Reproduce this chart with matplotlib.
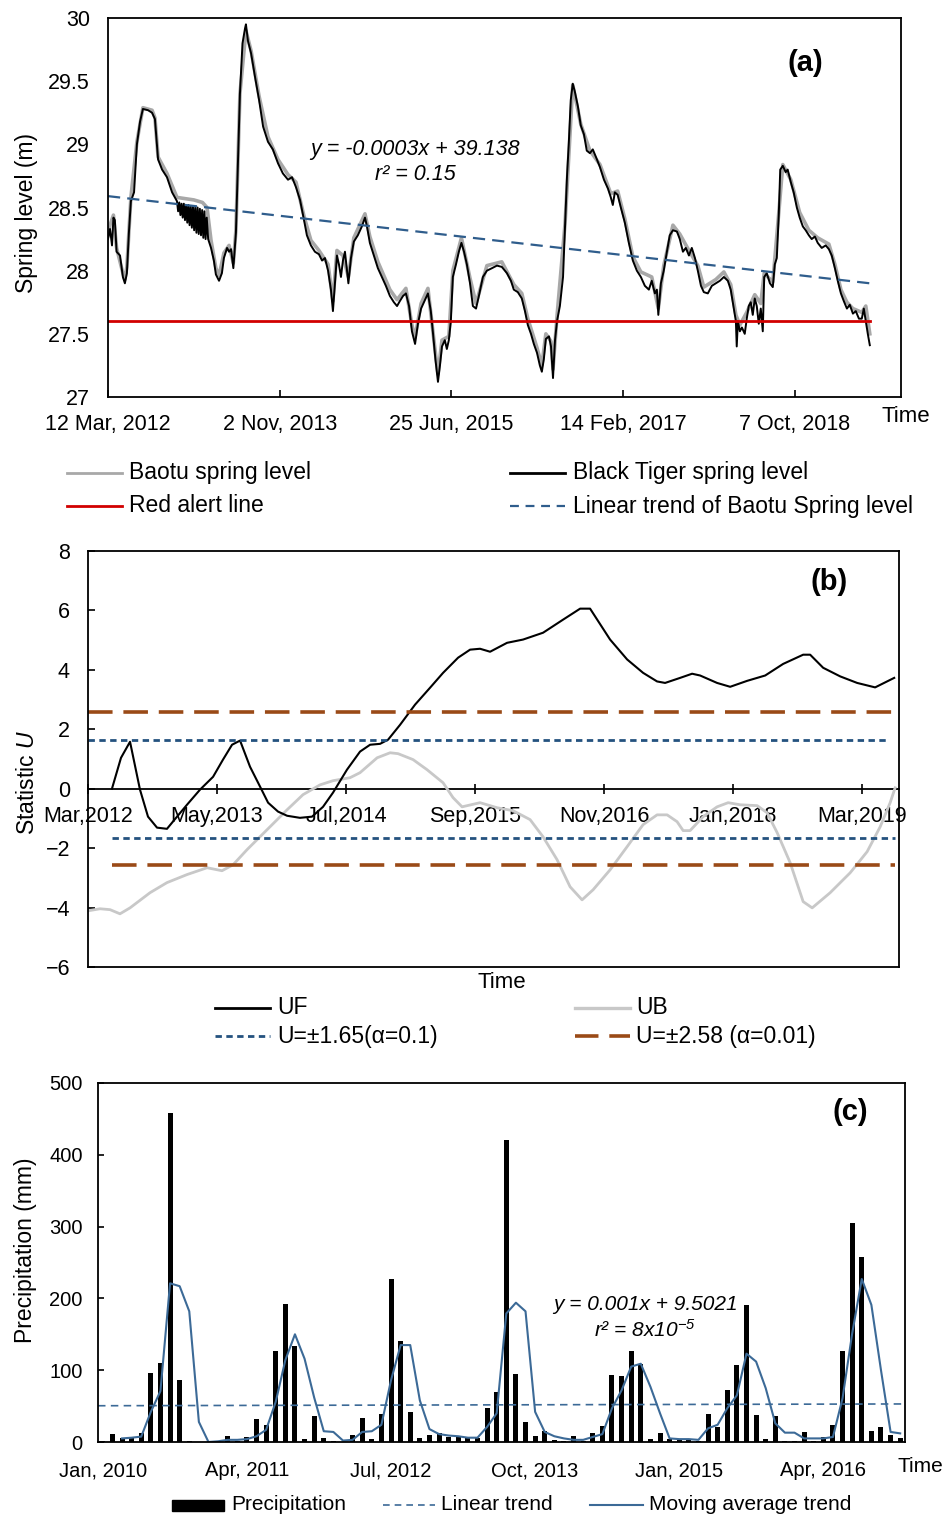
import matplotlib
matplotlib.use("Agg")
import matplotlib.pyplot as plt
import numpy as np
from matplotlib.lines import Line2D
from matplotlib.patches import Rectangle

plt.rcParams["font.family"] = ["Liberation Sans", "DejaVu Sans"]
plt.rcParams["mathtext.fontset"] = "custom"
plt.rcParams["mathtext.rm"] = "Liberation Sans:italic"
plt.rcParams["mathtext.it"] = "Liberation Sans:italic"

# ---------------- (a) spring levels, x = days since 12 Mar 2012 ----------------
BT_DAY = [0, 7, 14, 19, 24, 30, 42, 52, 59, 66, 73, 80, 91, 101, 112, 122, 140, 154, 164, 175,
          189, 206, 224, 241, 245, 249, 253, 257, 261, 265, 269, 273, 277, 281, 285, 289, 293, 297,
          301, 305, 309, 313, 317, 321, 325, 329, 333, 337, 341, 345, 350, 360, 370, 377,
          388, 398, 405, 416, 423, 430, 438, 447, 454, 461, 470, 479, 482, 489, 500, 514, 528, 542,
          559, 576, 594, 611, 629, 643, 657, 671, 685, 695, 709, 723, 737, 748, 758, 769, 779, 786,
          793, 800, 807, 814, 821, 828, 835, 840, 849, 859, 873, 887, 898, 905, 915, 929, 943, 957,
          971, 985, 999, 1010, 1020, 1031, 1041, 1052, 1062, 1073, 1083, 1094, 1104, 1118, 1128,
          1135, 1144, 1153, 1160, 1167, 1177, 1184, 1191, 1198, 1205, 1216, 1226, 1235, 1244, 1254,
          1265, 1275, 1286, 1296, 1310, 1324, 1342, 1359, 1376, 1394, 1408, 1418, 1432, 1446, 1457,
          1467, 1478, 1488, 1499, 1509, 1516, 1523, 1530, 1541, 1548, 1555, 1562, 1569, 1579, 1590,
          1597, 1604, 1610, 1617, 1624, 1631, 1642, 1652, 1663, 1673, 1684, 1694, 1705, 1719, 1733,
          1747, 1757, 1764, 1771, 1781, 1792, 1806, 1820, 1834, 1848, 1862, 1876, 1890, 1900, 1911,
          1918, 1923, 1932, 1942, 1953, 1963, 1974, 1988, 1998, 2009, 2019, 2030, 2040, 2051, 2061,
          2072, 2082, 2096, 2110, 2124, 2138, 2152, 2166, 2176, 2187, 2194, 2197, 2201, 2208, 2215,
          2225, 2232, 2239, 2246, 2253, 2260, 2267, 2274, 2281, 2288, 2293, 2302, 2313, 2323, 2330,
          2337, 2344, 2349, 2358, 2368, 2375, 2386, 2396, 2407, 2417, 2428, 2438, 2449, 2459, 2470,
          2480, 2494, 2508, 2519, 2529, 2540, 2550, 2561, 2571, 2582, 2592, 2603, 2613, 2624, 2634,
          2641, 2648, 2655, 2662]
BT_LEVEL = [28.25, 28.33, 28.20, 28.42, 28.40, 28.15, 28.12, 27.95, 27.90, 27.98, 28.30, 28.55,
            28.62, 29.00, 29.18, 29.28, 29.27, 29.25, 29.20, 28.88, 28.80, 28.74, 28.62, 28.55,
            28.47, 28.54, 28.44, 28.53, 28.42, 28.53, 28.40, 28.52, 28.38, 28.52, 28.36, 28.51,
            28.34, 28.51, 28.32, 28.50, 28.30, 28.50, 28.29, 28.49, 28.28, 28.48, 28.26, 28.47,
            28.25, 28.42, 28.25, 28.18,
            28.08, 27.97, 27.92, 27.98, 28.10, 28.18, 28.15, 28.17, 28.02, 28.30, 28.85, 29.40,
            29.80, 29.92, 29.95, 29.82, 29.72, 29.53, 29.35, 29.14, 29.02, 28.96, 28.85, 28.77,
            28.72, 28.74, 28.66, 28.56, 28.40, 28.28, 28.20, 28.15, 28.13, 28.08, 28.10, 28.00,
            27.85, 27.68, 27.90, 28.12, 28.05, 27.95, 28.08, 28.15, 28.00, 27.90, 28.10, 28.23,
            28.28, 28.35, 28.42, 28.35, 28.22, 28.12, 28.02, 27.95, 27.88, 27.80, 27.75, 27.72,
            27.76, 27.80, 27.82, 27.72, 27.52, 27.42, 27.58, 27.70, 27.75, 27.82, 27.68, 27.52,
            27.30, 27.12, 27.25, 27.40, 27.45, 27.38, 27.45, 27.60, 27.95, 28.05, 28.15, 28.22,
            28.15, 28.05, 27.90, 27.72, 27.70, 27.80, 27.95, 28.00, 28.02, 28.04, 28.03, 27.98,
            27.92, 27.85, 27.83, 27.78, 27.68, 27.57, 27.50, 27.42, 27.35, 27.25, 27.20, 27.30,
            27.46, 27.48, 27.40, 27.15, 27.45, 27.60, 27.72, 27.95, 28.35, 28.75, 29.00, 29.35,
            29.48, 29.42, 29.30, 29.15, 29.08, 28.95, 28.93, 28.96, 28.90, 28.82, 28.72, 28.65,
            28.58, 28.52, 28.62, 28.60, 28.50, 28.38, 28.22, 28.08, 28.00, 27.95, 27.88, 27.85,
            27.92, 27.82, 27.85, 27.65, 27.90, 28.00, 28.15, 28.28, 28.32, 28.31, 28.25, 28.15,
            28.18, 28.12, 28.18, 28.10, 28.00, 27.88, 27.83, 27.82, 27.88, 27.90, 27.92, 27.95,
            27.92, 27.85, 27.70, 27.60, 27.40, 27.60, 27.52, 27.55, 27.50, 27.62, 27.72, 27.75,
            27.65, 27.78, 27.72, 27.58, 27.70, 27.52, 27.95, 27.98, 27.90, 27.87, 28.05, 28.10,
            28.45, 28.80, 28.83, 28.78, 28.80, 28.70, 28.62, 28.50, 28.42, 28.35, 28.32, 28.28,
            28.25, 28.27, 28.22, 28.18, 28.20, 28.17, 28.12, 28.02, 27.92, 27.82, 27.76, 27.70,
            27.73, 27.66, 27.68, 27.62, 27.62, 27.70, 27.60, 27.50, 27.41]

BAOTU_DAY = [0, 7, 19, 30, 52, 59, 66, 80, 101, 122, 154, 164, 175, 206, 241, 270, 300, 330, 346,
             360, 377, 388, 405, 423, 438, 447, 461, 482, 500, 528, 559, 594, 629, 657, 685, 709,
             737, 769, 786, 800, 821, 840, 859, 898, 915, 943, 985, 1010, 1041, 1062, 1073, 1094,
             1118, 1144, 1153, 1167, 1191, 1205, 1235, 1265, 1286, 1324, 1376, 1418, 1446, 1467,
             1499, 1516, 1530, 1548, 1555, 1569, 1597, 1624, 1652, 1684, 1719, 1757, 1781, 1806,
             1834, 1862, 1900, 1923, 1942, 1974, 1998, 2030, 2061, 2082, 2124, 2152, 2176, 2194,
             2208, 2232, 2260, 2281, 2293, 2323, 2344, 2358, 2386, 2417, 2449, 2480, 2519, 2540,
             2561, 2582, 2603, 2634, 2648, 2662]
BAOTU_LEVEL = [28.28, 28.36, 28.44, 28.18, 27.98, 27.93, 28.03, 28.58, 29.02, 29.29, 29.27, 29.21,
               28.90, 28.77, 28.58, 28.57, 28.56, 28.54, 28.50, 28.24, 28.02, 27.96, 28.14, 28.20,
               28.06, 28.32, 29.40, 29.90, 29.74, 29.38, 29.06, 28.88, 28.76, 28.70, 28.43, 28.24,
               28.16, 28.05, 27.76, 28.16, 28.12, 27.95, 28.26, 28.45, 28.27, 28.07, 27.85, 27.77,
               27.86, 27.57, 27.47, 27.74, 27.86, 27.35, 27.18, 27.45, 27.48, 28.00, 28.26, 27.94,
               27.74, 28.04, 28.07, 27.89, 27.82, 27.62, 27.39, 27.25, 27.50, 27.44, 27.22, 27.64,
               28.37, 29.47, 29.16, 28.95, 28.84, 28.61, 28.63, 28.41, 28.11, 27.99, 27.95, 27.70,
               28.04, 28.36, 28.29, 28.16, 28.04, 27.87, 27.93, 27.99, 27.89, 27.65, 27.57, 27.67,
               27.81, 27.74, 27.98, 27.91, 28.46, 28.84, 28.72, 28.46, 28.32, 28.26, 28.21, 28.05,
               27.85, 27.75, 27.70, 27.67, 27.72, 27.50]

TREND_DAY = [0, 2662]
TREND_LEVEL = [28.59, 27.90]
RED_ALERT = 27.6
A_TICK_DAYS = [0, 600, 1200, 1800, 2400]
A_TICK_LABELS = ["12 Mar, 2012", "2 Nov, 2013", "25 Jun, 2015", "14 Feb, 2017", "7 Oct, 2018"]

# ---------------- (b) Mann-Kendall, x = months since Mar 2012 ----------------
UF_MONTH = [2.6, 3.58, 4.56, 5.64, 6.51, 7.49, 8.57, 9.66, 10.74, 12.16, 13.57, 14.65, 15.63, 16.5,
            17.58, 18.67, 19.54, 20.62, 21.6, 23.0, 24.31, 25.5, 26.59, 28.1, 29.52, 30.61, 31.69,
            32.56, 33.86, 35.49, 37.12, 38.53, 40.16, 41.46, 42.54, 43.63, 45.47, 47.21, 49.38,
            51.55, 53.4, 54.48, 56.65, 58.5, 60.23, 61.75, 62.62, 64.25, 65.55, 66.42, 68.26, 69.68,
            71.52, 73.48, 75.43, 77.6, 78.36, 79.77, 81.62, 83.46, 85.41, 87.48]
UF = [0.0, 1.04, 1.58, -0.03, -0.94, -1.31, -1.35, -0.94, -0.54, -0.03, 0.40, 0.98, 1.48, 1.62,
      0.74, 0.07, -0.47, -0.77, -0.91, -0.98, -0.94, -0.61, -0.13, 0.64, 1.25, 1.48, 1.51, 1.65,
      2.15, 2.83, 3.40, 3.90, 4.41, 4.68, 4.71, 4.61, 4.91, 5.02, 5.25, 5.69, 6.06, 6.06, 5.02,
      4.35, 3.90, 3.61, 3.56, 3.73, 3.87, 3.81, 3.56, 3.43, 3.63, 3.81, 4.20, 4.51, 4.51, 4.07,
      3.78, 3.56, 3.41, 3.73]
UB_MONTH = [0.0, 1.3, 2.39, 3.47, 4.56, 6.73, 8.57, 10.74, 12.92, 14.54, 15.74, 17.26, 19.43, 21.6,
            23.33, 25.18, 26.59, 28.43, 29.52, 31.37, 32.78, 33.64, 35.27, 36.79, 38.53, 39.61,
            40.59, 42.54, 44.39, 46.13, 47.97, 49.38, 50.9, 52.31, 53.61, 54.81, 56.65, 58.5, 60.23,
            61.75, 62.84, 63.92, 64.58, 65.33, 66.75, 68.26, 69.46, 70.76, 72.61, 73.69, 74.78,
            76.19, 77.6, 78.58, 80.53, 82.7, 84.54, 85.96, 87.04, 87.58]
UB = [-4.11, -4.04, -4.07, -4.21, -4.01, -3.50, -3.16, -2.89, -2.66, -2.76, -2.56, -2.05, -1.38,
      -0.71, -0.20, 0.13, 0.27, 0.37, 0.54, 1.04, 1.21, 1.18, 0.98, 0.64, 0.20, -0.30, -0.61, -0.47,
      -0.64, -0.74, -1.04, -1.62, -2.39, -3.30, -3.74, -3.40, -2.73, -1.95, -1.21, -0.88, -0.88,
      -1.11, -1.41, -1.41, -0.94, -0.61, -0.47, -0.54, -0.57, -0.81, -1.48, -2.49, -3.80, -4.01,
      -3.50, -2.83, -2.12, -1.28, -0.47, 0.03]
U90 = 1.65
U99 = 2.58
B_TICK_MONTHS = [0, 14, 28, 42, 56, 70, 84]
B_TICK_LABELS = ["Mar,2012", "May,2013", "Jul,2014", "Sep,2015", "Nov,2016", "Jan,2018", "Mar,2019"]

# ---------------- (c) monthly precipitation Jan 2010 - Dec 2016 ----------------
PRECIP = [2, 11, 5, 6, 13, 96, 110, 458, 87, 2, 0, 0,
          1, 8, 2, 7, 32, 24, 127, 192, 134, 4, 36, 5,
          2, 0, 10, 33, 4, 39, 227, 141, 42, 6, 10, 13,
          7, 7, 6, 6, 48, 69, 421, 95, 28, 9, 15, 3,
          2, 9, 1, 13, 22, 94, 92, 127, 109, 4, 12, 4,
          4, 3, 1, 39, 21, 73, 107, 191, 38, 4, 36, 2,
          2, 14, 1, 7, 24, 127, 305, 257, 16, 21, 10, 6]
MOVING_AVG = [np.nan, np.nan, 5, 6, 7.5, 42, 71, 221, 217, 182, 28, 0,
              1, 3, 3, 4, 8, 17, 56, 114, 150, 116, 62, 15,
              14, 2, 3, 14, 15, 24, 86, 135, 135, 58, 18, 11,
              9, 8, 6, 6, 21, 40, 179, 194, 182, 42, 14, 8,
              5, 3, 3, 7, 11, 47, 72, 105, 109, 77, 40, 5,
              4, 4, 3, 19, 24, 47, 65, 123, 112, 75, 26, 13,
              13, 5, 5, 5, 7, 61, 151, 227, 191, 100, 14, 12]
PRECIP_TREND = [50.5, 53.0]
C_TICK_IDX = [0, 15, 30, 45, 60, 75]
C_TICK_LABELS = ["Jan, 2010", "Apr, 2011", "Jul, 2012", "Oct, 2013", "Jan, 2015", "Apr, 2016"]

W, H = 952, 1517
fig = plt.figure(figsize=(W / 100, H / 100), dpi=100)


def box(x0, y0, x1, y1):
    return [x0 / W, 1 - y1 / H, (x1 - x0) / W, (y1 - y0) / H]


def px(x, y):
    return x / W, 1 - y / H


def key_line(x0, x1, y, **kw):
    a, b = px(x0, y)
    c, _ = px(x1, y)
    fig.add_artist(Line2D([a, c], [b, b], transform=fig.transFigure, **kw))


def label(x, y, s, size=16.5, **kw):
    kw.setdefault("ha", "left")
    kw.setdefault("va", "center")
    fig.text(*px(x, y), s, fontsize=size, **kw)


SPINE_W = 1.3
BLUE_A = "#2F5D8C"
BLUE_B = "#24527F"
BROWN = "#9A4A17"
BLUE_C = "#3C6A97"

# ---- panel (a)
ax_a = fig.add_axes(box(108, 18, 901, 397))
ax_a.plot(BAOTU_DAY, BAOTU_LEVEL, color="#A8A8A8", lw=2.6, solid_joinstyle="round")
ax_a.plot(BT_DAY, BT_LEVEL, color="black", lw=1.4)
ax_a.plot([BT_DAY[0], BT_DAY[-1]], [RED_ALERT, RED_ALERT], color="#D10000", lw=2.0)
ax_a.plot(TREND_DAY, TREND_LEVEL, color=BLUE_A, lw=1.6, dashes=(5.5, 3.2))
ax_a.set_xlim(0, 2771)
ax_a.set_ylim(27, 30)
ax_a.set_yticks([27, 27.5, 28, 28.5, 29, 29.5, 30])
ax_a.set_yticklabels(["27", "27.5", "28", "28.5", "29", "29.5", "30"])
ax_a.set_xticks(A_TICK_DAYS)
ax_a.set_xticklabels(A_TICK_LABELS)
ax_a.tick_params(axis="x", direction="in", length=5, width=1.2, pad=12, labelsize=15.5)
ax_a.tick_params(axis="y", length=0, pad=13, labelsize=15.5)
for s in ax_a.spines.values():
    s.set_linewidth(SPINE_W)
ax_a.text(0.879, 0.881, "(a)", transform=ax_a.transAxes, fontsize=21, fontweight="bold",
          ha="center", va="center")
ax_a.text(0.387, 0.652, "y = -0.0003x + 39.138", transform=ax_a.transAxes, fontsize=15.5,
          style="italic", ha="center", va="center")
ax_a.text(0.387, 0.587, "r² = 0.15", transform=ax_a.transAxes, fontsize=15.5,
          style="italic", ha="center", va="center")
label(27, 213, "Spring level (m)", size=16.5, rotation=90, ha="center")
label(906, 416, "Time", size=16, ha="center")

key_line(67, 122, 473, color="#A8A8A8", lw=2.0)
label(129, 473, "Baotu spring level")
key_line(510, 565, 473, color="black", lw=2.0)
label(573, 473, "Black Tiger spring level")
key_line(67, 122, 506, color="#D10000", lw=2.0)
label(129, 506, "Red alert line")
key_line(510, 565, 506, color=BLUE_A, lw=1.6, dashes=(4, 3))
label(573, 506, "Linear trend of Baotu Spring level")

# ---- panel (b)
ax_b = fig.add_axes(box(88, 551, 899, 967))
ax_b.plot(UB_MONTH, UB, color="#C8C8C8", lw=2.0)
ax_b.plot(UF_MONTH, UF, color="black", lw=1.5)
ax_b.plot([0, 86.9], [U90, U90], color=BLUE_B, lw=2.0, dashes=(2.3, 1.6))
ax_b.plot([2.6, 87.6], [-U90, -U90], color=BLUE_B, lw=2.0, dashes=(2.3, 1.6))
ax_b.plot([0, 87.6], [U99, U99], color=BROWN, lw=2.6, dashes=(6.8, 3.0))
ax_b.plot([2.6, 87.6], [-U99, -U99], color=BROWN, lw=2.6, dashes=(6.8, 3.0))
ax_b.set_xlim(0, 88)
ax_b.set_ylim(-6, 8)
ax_b.set_yticks(np.arange(-6, 9, 2))
ax_b.set_xticks([])
ax_b.tick_params(axis="y", direction="in", length=5, width=1.2, pad=13, labelsize=15.5)
for s in ax_b.spines.values():
    s.set_linewidth(SPINE_W)
zero_axis = ax_b.secondary_xaxis(6 / 14)
zero_axis.set_xticks(B_TICK_MONTHS)
zero_axis.set_xticklabels(B_TICK_LABELS)
zero_axis.tick_params(axis="x", direction="inout", length=7, width=1.2, pad=9, labelsize=15.5)
zero_axis.spines["bottom"].set_linewidth(SPINE_W)
ax_b.text(0.914, 0.925, "(b)", transform=ax_b.transAxes, fontsize=21, fontweight="bold",
          ha="center", va="center")
label(27, 782, "Statistic $U$", size=16.5, rotation=90, ha="center")
label(502, 983, "Time", size=16, ha="center")

key_line(215, 270, 1008, color="black", lw=2.0)
label(277, 1008, "UF")
key_line(575, 630, 1008, color="#C8C8C8", lw=2.4)
label(636, 1008, "UB")
key_line(215, 270, 1036, color=BLUE_B, lw=2.0, dashes=(2.3, 1.6))
label(277, 1036, "U=±1.65(α=0.1)")
key_line(575, 630, 1036, color=BROWN, lw=2.6, dashes=(6.5, 3.0))
label(636, 1036, "U=±2.58 (α=0.01)")

# ---- panel (c)
ax_c = fig.add_axes(box(98, 1083, 905, 1442))
months = np.arange(len(PRECIP))
ax_c.bar(months, PRECIP, width=0.52, color="black")
ax_c.plot([-0.5, len(PRECIP) - 0.5], PRECIP_TREND, color=BLUE_C, lw=1.2, dashes=(4.5, 3.2))
ax_c.plot(months, MOVING_AVG, color=BLUE_C, lw=1.5)
ax_c.set_xlim(-0.5, len(PRECIP) - 0.5)
ax_c.set_ylim(0, 500)
ax_c.set_yticks(np.arange(0, 501, 100))
ax_c.set_xticks(C_TICK_IDX)
ax_c.set_xticklabels(C_TICK_LABELS)
ax_c.tick_params(axis="x", length=0, pad=14, labelsize=14.5)
ax_c.tick_params(axis="y", direction="in", length=4.5, width=1.2, pad=11, labelsize=14.5)
for s in ax_c.spines.values():
    s.set_linewidth(SPINE_W)
ax_c.text(0.932, 0.92, "(c)", transform=ax_c.transAxes, fontsize=21, fontweight="bold",
          ha="center", va="center")
ax_c.text(0.678, 0.383, "y = 0.001x + 9.5021", transform=ax_c.transAxes, fontsize=15,
          style="italic", ha="center", va="center")
ax_c.text(0.678, 0.313, "r² = 8x10$^{-5}$", transform=ax_c.transAxes, fontsize=15,
          style="italic", ha="center", va="center")
label(26, 1250, "Precipitation (mm)", size=16.5, rotation=90, ha="center")
label(920, 1467, "Time", size=15, ha="center")

fig.add_artist(Rectangle(px(172, 1511), 52 / W, 11 / H, transform=fig.transFigure,
                         color="black"))
label(231, 1505, "Precipitation", size=15)
key_line(383, 435, 1505, color=BLUE_C, lw=1.2, dashes=(4, 3))
label(441, 1505, "Linear trend", size=15)
key_line(590, 643, 1505, color=BLUE_C, lw=1.5)
label(649, 1505, "Moving average trend", size=15)

fig.savefig("out.png", dpi=100)
